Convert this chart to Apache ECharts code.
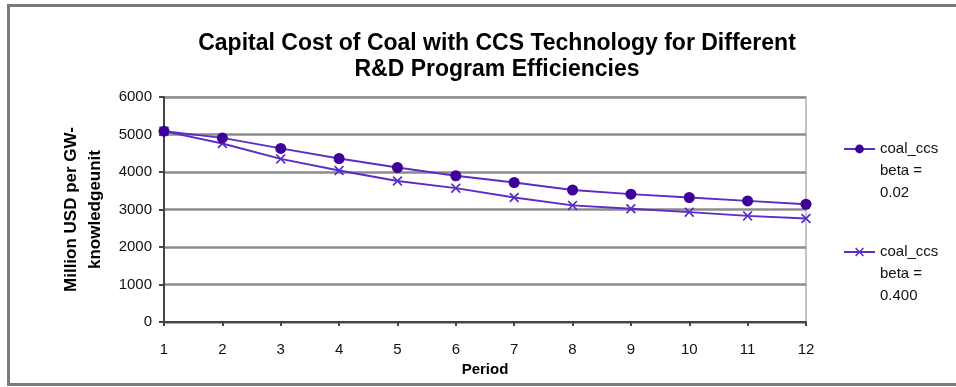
<!DOCTYPE html>
<html>
<head>
<meta charset="utf-8">
<script src="https://cdn.jsdelivr.net/npm/echarts@6/dist/echarts.min.js"></script>
<style>
  html, body { margin: 0; padding: 0; background: #fff; }
  #chart { width: 956px; height: 387px; }
</style>
</head>
<body>
<div id="chart"></div>
<script>
// Periods on the horizontal axis
const periods = ['1', '2', '3', '4', '5', '6', '7', '8', '9', '10', '11', '12'];

// Capital cost (million USD per GW-knowledge unit) by R&D efficiency
const costBeta002 = [5090, 4910, 4630, 4360, 4120, 3900, 3720, 3520, 3410, 3320, 3230, 3140];
const costBeta0400 = [5090, 4760, 4350, 4040, 3760, 3570, 3320, 3110, 3020, 2930, 2830, 2760];

const seriesNames = ['coal_ccs beta = 0.02', 'coal_ccs beta = 0.400'];
// legend captions, wrapped over three lines
const legendCaptions = {
  'coal_ccs beta = 0.02': 'coal_ccs\nbeta =\n0.02',
  'coal_ccs beta = 0.400': 'coal_ccs\nbeta =\n0.400'
};

const yMin = 0, yMax = 6000, yStep = 1000;

const FONT = '"Liberation Sans", Arial, Helvetica, sans-serif';
const markColor = '#3e0098';
const lineColor = '#5b2cc6';

// filled "x" glyph for the second series
const crossPath = 'path://M0,1.2L1.2,0L5,3.8L8.8,0L10,1.2L6.2,5L10,8.8L8.8,10L5,6.2L1.2,10L0,8.8L3.8,5Z';

// two blank lines ahead of the caption keep the key level with its first line
const legendFormatter = (name) => '\n\n' + legendCaptions[name];

const legendText = {
  fontFamily: FONT,
  fontSize: 15,
  color: '#111',
  lineHeight: 22
};

const chart = echarts.init(document.getElementById('chart'), null, { renderer: 'canvas' });

chart.setOption({
  animation: false,
  backgroundColor: '#fff',
  title: {
    text: 'Capital Cost of Coal with CCS Technology for Different\nR&D Program Efficiencies',
    left: 492,
    textAlign: 'center',
    top: 26,
    textStyle: {
      fontFamily: FONT,
      fontSize: 23,
      fontWeight: 'bold',
      color: '#000',
      lineHeight: 26
    }
  },
  graphic: [{
    type: 'rect',
    shape: { x: 8.5, y: 5.5, width: 960, height: 379 },
    style: { fill: 'none', stroke: '#7a7a7a', lineWidth: 3 },
    silent: true
  }],
  legend: [{
    data: [seriesNames[0]],
    formatter: legendFormatter,
    orient: 'vertical',
    left: 838,
    top: 89,
    itemWidth: 31,
    itemHeight: 11,
    itemGap: 0,
    textStyle: legendText
  }, {
    data: [seriesNames[1]],
    formatter: legendFormatter,
    orient: 'vertical',
    left: 838,
    top: 192,
    itemWidth: 31,
    itemHeight: 11,
    itemGap: 0,
    textStyle: legendText
  }],
  grid: {
    left: 164,
    right: 150,
    top: 97,
    bottom: 65,
    show: true,
    borderColor: '#c4c4c4',
    borderWidth: 2,
    backgroundColor: '#fff'
  },
  xAxis: {
    type: 'category',
    data: periods,
    boundaryGap: false,
    name: 'Period',
    nameLocation: 'middle',
    nameGap: 29,
    nameTextStyle: { fontFamily: FONT, fontSize: 15, fontWeight: 'bold', color: '#000' },
    axisLine: { lineStyle: { color: '#444', width: 2 } },
    axisTick: { show: true, length: 4, lineStyle: { color: '#444', width: 2 } },
    axisLabel: { fontFamily: FONT, fontSize: 15, color: '#111', margin: 20 },
    splitLine: { show: false }
  },
  yAxis: {
    type: 'value',
    min: yMin,
    max: yMax,
    interval: yStep,
    name: 'Million USD per GW-\nknowledgeunit',
    nameLocation: 'middle',
    nameRotate: 90,
    nameGap: 52,
    nameTextStyle: { fontFamily: FONT, fontSize: 17, fontWeight: 'bold', color: '#000', lineHeight: 24 },
    axisLine: { show: true, lineStyle: { color: '#444', width: 2 } },
    axisTick: { show: true, length: 5, lineStyle: { color: '#444', width: 2 } },
    axisLabel: { fontFamily: FONT, fontSize: 15, color: '#111', margin: 12, formatter: (v) => String(v) },
    splitLine: { show: true, lineStyle: { color: '#8c8c8c', width: 2.5 } }
  },
  series: [{
    name: seriesNames[0],
    type: 'line',
    data: costBeta002,
    symbol: 'circle',
    symbolSize: 11,
    itemStyle: { color: markColor },
    lineStyle: { color: lineColor, width: 2 },
    z: 3
  }, {
    name: seriesNames[1],
    type: 'line',
    data: costBeta0400,
    symbol: crossPath,
    symbolSize: 10,
    itemStyle: { color: '#5a2cc6' },
    lineStyle: { color: lineColor, width: 2 },
    z: 2
  }]
});
</script>
</body>
</html>
